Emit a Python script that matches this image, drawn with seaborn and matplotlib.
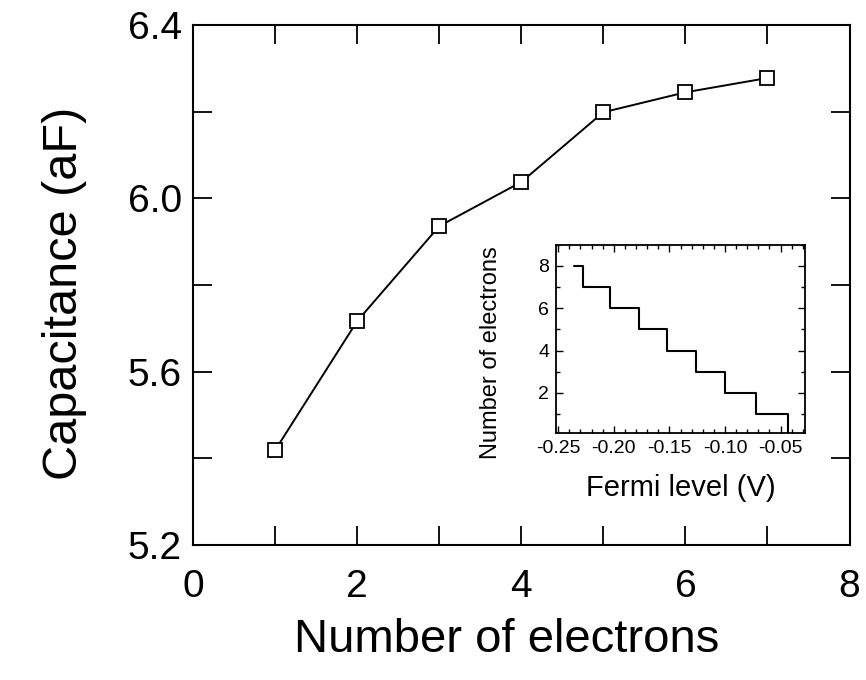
import numpy as np
import pandas as pd
import matplotlib
matplotlib.use("Agg")
import matplotlib.pyplot as plt
from matplotlib.ticker import MultipleLocator
import seaborn as sns

# main curve: capacitance vs number of electrons
n_electrons = [1, 2, 3, 4, 5, 6, 7]
capacitance = [5.419, 5.717, 5.936, 6.038, 6.199, 6.245, 6.278]

# inset staircase: fermi level where each plateau starts
fermi_level = [-0.236, -0.2274, -0.203, -0.177, -0.152, -0.126, -0.100, -0.072, -0.0435]
electron_count = [8, 7, 6, 5, 4, 3, 2, 1, 0]

sns.set_style("ticks")
plt.rcParams['font.family'] = ['Liberation Sans', 'DejaVu Sans']
plt.rcParams['xtick.direction'] = 'in'
plt.rcParams['ytick.direction'] = 'in'
for k in ['text.color', 'axes.labelcolor', 'xtick.color', 'ytick.color', 'axes.edgecolor']:
    plt.rcParams[k] = 'black'

fig = plt.figure(figsize=(8.66, 6.8), dpi=100)
ax = fig.add_axes([0.223, 0.1985, 0.758, 0.7645])

main_df = pd.DataFrame({'n': n_electrons, 'C': capacitance})
sns.lineplot(data=main_df, x='n', y='C', ax=ax, color='black', lw=1.4,
             marker='s', markersize=10, markerfacecolor='white',
             markeredgecolor='black', markeredgewidth=1.3)

ax.set_xlim(0, 8)
ax.set_ylim(5.2, 6.4)
ax.xaxis.set_major_locator(MultipleLocator(2))
ax.xaxis.set_minor_locator(MultipleLocator(1))
ax.yaxis.set_major_locator(MultipleLocator(0.4))
ax.yaxis.set_minor_locator(MultipleLocator(0.2))
ax.set_yticklabels([f"{v:.1f}" for v in ax.get_yticks()])
ax.tick_params(which='both', top=True, right=True, width=1.3)
ax.tick_params(which='major', length=14, labelsize=28)
ax.tick_params(axis='x', which='major', pad=17)
ax.tick_params(axis='y', which='major', pad=8)
ax.tick_params(which='minor', length=14)
for s in ax.spines.values():
    s.set_linewidth(1.5)
ax.set_xlabel('Number of electrons', fontsize=34)
ax.set_ylabel('Capacitance (aF)', fontsize=35)
ax.xaxis.set_label_coords(0.477, -0.14)
ax.yaxis.set_label_coords(-0.162, 0.485)

# inset
ins = fig.add_axes([0.642, 0.363, 0.2876, 0.277])
inset_df = pd.DataFrame({'E': fermi_level, 'N': electron_count})
sns.lineplot(data=inset_df, x='E', y='N', ax=ins, color='black', lw=1.5,
             drawstyle='steps-post')
ins.set_xlim(-0.252, -0.028)
ins.set_ylim(0.1, 9)
ins.xaxis.set_minor_locator(MultipleLocator(0.01))
ins.yaxis.set_minor_locator(MultipleLocator(1))
ins.set_xticks([-0.25, -0.20, -0.15, -0.10, -0.05])
ins.set_xticklabels(['-0.25', '-0.20', '-0.15', '-0.10', '-0.05'])
ins.set_yticks([2, 4, 6, 8])
ins.tick_params(which='both', top=True, right=True, width=1.0)
ins.tick_params(which='major', length=5, labelsize=14, pad=5)
ins.tick_params(which='minor', length=3)
for s in ins.spines.values():
    s.set_linewidth(1.3)
ins.set_xlabel('Fermi level (V)', fontsize=21, labelpad=12)
ins.set_ylabel('Number of electrons', fontsize=17)
ins.yaxis.set_label_coords(-0.215, 0.425)

fig.savefig('out.png', dpi=100)
